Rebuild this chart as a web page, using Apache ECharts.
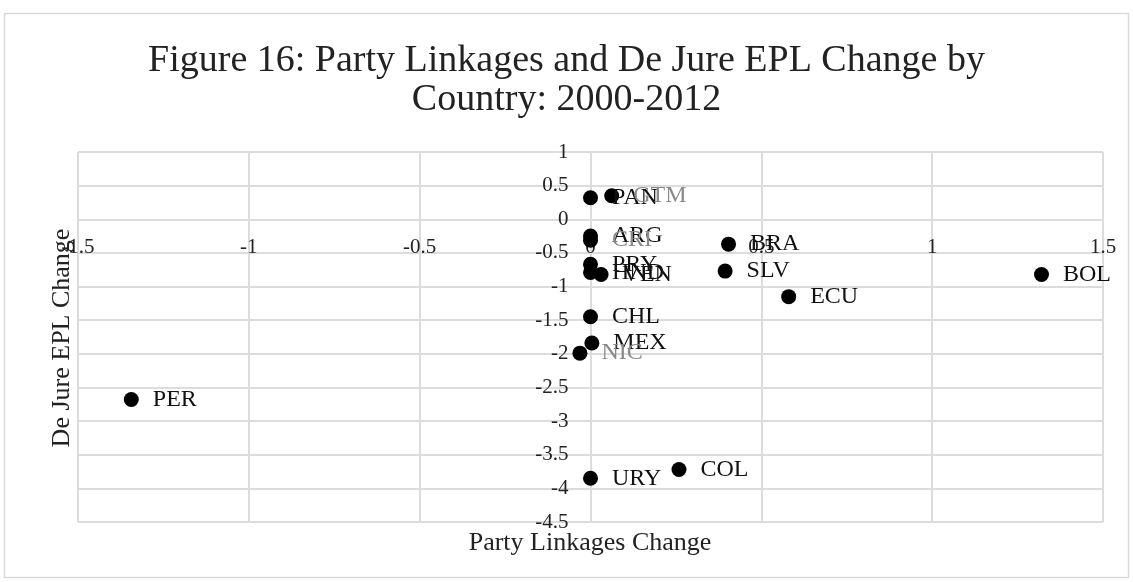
<!DOCTYPE html>
<html>
<head>
<meta charset="utf-8">
<title>Party Linkages and De Jure EPL Change</title>
<script src="https://cdn.jsdelivr.net/npm/echarts@6/dist/echarts.min.js"></script>
<style>
  html, body { margin: 0; padding: 0; background: #fff; }
  #chart { width: 1133px; height: 582px; }
</style>
</head>
<body>
<div id="chart"></div>
<script>
// Country codes and their changes over 2000-2012
const countries = ['PAN', 'GTM', 'ARG', 'CRI', 'PRY', 'HND', 'VEN', 'BRA', 'SLV', 'BOL', 'ECU', 'CHL', 'MEX', 'NIC', 'PER', 'URY', 'COL'];
const linkageChange = [0, 0.062, 0, 0, 0, 0, 0.031, 0.404, 0.394, 1.32, 0.58, 0, 0.004, -0.031, -1.344, 0, 0.259];
const eplChange = [0.32, 0.35, -0.25, -0.31, -0.67, -0.79, -0.82, -0.37, -0.77, -0.82, -1.15, -1.45, -1.84, -1.99, -2.68, -3.85, -3.72];
// Labels drawn in a lighter tone
const mutedLabels = ['GTM', 'CRI', 'NIC'];

const titleLines = ['Figure 16: Party Linkages and De Jure EPL Change by', 'Country: 2000-2012'];
const xAxisTitle = 'Party Linkages Change';
const yAxisTitle = 'De Jure EPL Change';

const FONT = "'Liberation Serif', 'Times New Roman', serif";
const GRID_COLOR = '#dcdcdc';

// Plot area and axis ranges
const W = 1133, H = 582;
const GRID = { left: 78, right: 30, top: 152, bottom: 60 };
const X_RANGE = [-1.5, 1.5];
const Y_RANGE = [-4.5, 1];

// Shift each axis so it crosses the other at zero
const plotW = W - GRID.left - GRID.right;
const plotH = H - GRID.top - GRID.bottom;
const xAxisOffset = -plotH * (0 - Y_RANGE[0]) / (Y_RANGE[1] - Y_RANGE[0]);
const yAxisOffset = -plotW * (0 - X_RANGE[0]) / (X_RANGE[1] - X_RANGE[0]);

const points = countries.map((c, i) => ({
  name: c,
  value: [linkageChange[i], eplChange[i]],
  label: { color: mutedLabels.includes(c) ? '#8a8a8a' : '#111' }
}));

const chart = echarts.init(document.getElementById('chart'), null, { renderer: 'canvas' });

chart.setOption({
  animation: false,
  backgroundColor: '#fff',
  title: {
    text: titleLines.join('\n'),
    left: 'center',
    top: 37,
    textStyle: {
      fontFamily: FONT,
      fontSize: 38,
      lineHeight: 39,
      fontWeight: 'normal',
      color: '#222'
    }
  },
  grid: Object.assign({ containLabel: false }, GRID),
  xAxis: {
    type: 'value',
    min: X_RANGE[0],
    max: X_RANGE[1],
    interval: 0.5,
    position: 'bottom',
    offset: xAxisOffset,
    axisLine: { show: true, onZero: false, lineStyle: { color: GRID_COLOR, width: 2 } },
    axisTick: { show: false },
    axisLabel: { margin: 18, fontFamily: FONT, fontSize: 21, color: '#222' },
    splitLine: { show: true, lineStyle: { color: GRID_COLOR, width: 2 } }
  },
  yAxis: {
    type: 'value',
    min: Y_RANGE[0],
    max: Y_RANGE[1],
    interval: 0.5,
    position: 'left',
    offset: yAxisOffset,
    axisLine: { show: true, onZero: false, lineStyle: { color: GRID_COLOR, width: 2 } },
    axisTick: { show: false },
    axisLabel: { margin: 22, fontFamily: FONT, fontSize: 21, color: '#222' },
    splitLine: { show: true, lineStyle: { color: GRID_COLOR, width: 2 } }
  },
  series: [{
    type: 'scatter',
    symbol: 'circle',
    symbolSize: 15,
    itemStyle: { color: '#000', opacity: 1 },
    label: {
      show: true,
      position: 'right',
      distance: 14,
      formatter: p => p.name,
      fontFamily: FONT,
      fontSize: 24
    },
    data: points
  }],
  graphic: [
    {
      type: 'rect',
      shape: { x: 4.5, y: 13.5, width: 1124, height: 564 },
      style: { fill: 'none', stroke: '#d9d9d9', lineWidth: 1.5 },
      silent: true,
      z: -10
    },
    {
      type: 'text',
      x: 590,
      y: 543,
      style: {
        text: xAxisTitle,
        fontFamily: FONT,
        fontSize: 26,
        fill: '#222',
        textAlign: 'center',
        textVerticalAlign: 'middle'
      }
    },
    {
      type: 'text',
      x: 62,
      y: 338,
      rotation: Math.PI / 2,
      style: {
        text: yAxisTitle,
        fontFamily: FONT,
        fontSize: 26,
        fill: '#222',
        textAlign: 'center',
        textVerticalAlign: 'middle'
      }
    }
  ]
});
</script>
</body>
</html>
